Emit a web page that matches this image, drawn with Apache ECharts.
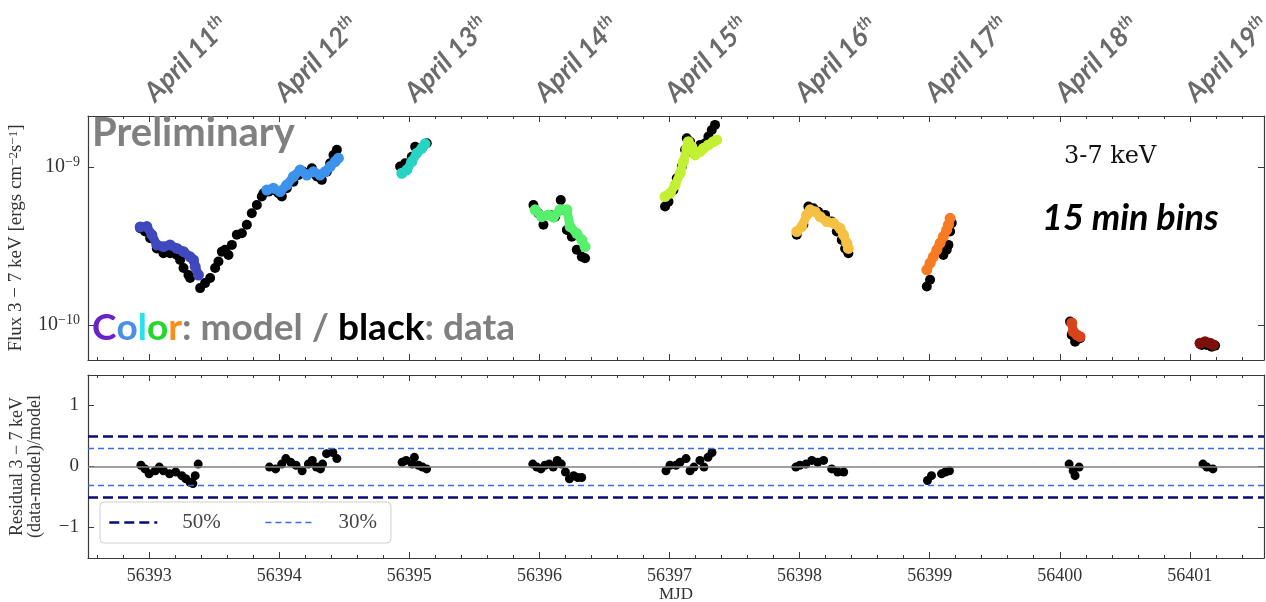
<!DOCTYPE html>
<html>
<head>
<meta charset="utf-8">
<script src="https://cdn.jsdelivr.net/npm/echarts@6/dist/echarts.min.js"></script>
<style>
  html, body { margin: 0; padding: 0; background: #fff; }
  #chart { width: 1266px; height: 602px; }
</style>
</head>
<body>
<div id="chart"></div>
<script>
// axis ranges
const xMin = 56392.53, xMax = 56401.57;
const fluxMin = 6.0e-11, fluxMax = 2.1e-9;
const resMin = -1.5, resMax = 1.5;

// one entry per observing day (April 11th .. 19th)
const dayTicks = [56393, 56394, 56395, 56396, 56397, 56398, 56399, 56400, 56401];
const aprilDays = [11, 12, 13, 14, 15, 16, 17, 18, 19];
const modelColors = ['#3f48bd', '#3c93ec', '#27d4c4', '#56f06c', '#c3f032', '#f6c142', '#f77b22', '#d8431c', '#7d0f0c'];

// data points (black), MJD and flux in 1e-10 erg cm^-2 s^-1
const dataT = [
  [56392.931, 56392.969, 56393.008, 56393.059, 56393.110, 56393.161, 56393.213, 56393.238, 56393.264, 56393.302, 56393.315, 56393.392, 56393.430, 56393.469, 56393.507, 56393.533, 56393.559, 56393.584, 56393.610, 56393.636, 56393.674, 56393.713, 56393.751, 56393.789, 56393.828, 56393.866],
  [56393.879, 56393.917, 56393.955, 56393.994, 56394.020, 56394.058, 56394.109, 56394.148, 56394.186, 56394.224, 56394.251, 56394.289, 56394.327, 56394.366, 56394.391, 56394.417, 56394.443],
  [56394.929, 56394.968, 56395.019, 56395.045, 56395.096, 56395.134],
  [56395.954, 56395.992, 56396.031, 56396.082, 56396.121, 56396.164, 56396.185, 56396.211, 56396.249, 56396.287, 56396.326, 56396.351],
  [56396.966, 56396.992, 56397.030, 56397.056, 56397.095, 56397.120, 56397.133, 56397.158, 56397.184, 56397.235, 56397.274, 56397.299, 56397.325, 56397.350],
  [56397.978, 56398.029, 56398.068, 56398.106, 56398.144, 56398.196, 56398.247, 56398.286, 56398.324, 56398.350, 56398.375],
  [56398.978, 56399.003, 56399.105, 56399.131, 56399.144, 56399.157, 56399.170],
  [56400.079, 56400.092, 56400.118, 56400.156],
  [56401.091, 56401.130, 56401.168, 56401.194]
];
const dataF = [
  [4.09, 3.90, 3.54, 3.05, 2.84, 2.84, 2.77, 2.58, 2.29, 2.07, 1.98, 1.71, 1.84, 1.98, 2.29, 2.52, 2.91, 2.99, 2.77, 3.21, 3.72, 3.80, 4.30, 5.09, 5.74, 6.49],
  [6.82, 6.98, 7.14, 6.82, 6.49, 7.33, 8.07, 8.89, 9.33, 9.12, 9.82, 8.69, 8.28, 9.33, 10.54, 11.91, 12.82],
  [10.05, 10.54, 11.61, 13.43, 13.12, 14.13],
  [5.74, 5.09, 4.30, 4.97, 4.84, 6.18, 5.35, 3.99, 3.62, 2.99, 2.70, 2.64],
  [5.61, 6.03, 7.14, 8.47, 10.05, 12.82, 15.2, 14.45, 12.22, 13.77, 14.13, 15.56, 17.14, 18.45],
  [3.72, 4.30, 5.61, 5.48, 5.21, 4.97, 4.51, 3.90, 3.45, 3.05, 2.84],
  [1.75, 1.93, 2.77, 2.99, 3.21, 3.90, 4.41],
  [1.05, 0.865, 0.784, 0.824],
  [0.747, 0.747, 0.729, 0.74]
];

// model curves (coloured)
const modelT = [
  [56392.931, 56392.982, 56393.021, 56393.059, 56393.110, 56393.161, 56393.213, 56393.264, 56393.315, 56393.341, 56393.354, 56393.379],
  [56393.905, 56393.955, 56394.007, 56394.058, 56394.109, 56394.161, 56394.212, 56394.263, 56394.314, 56394.353, 56394.391, 56394.430, 56394.455],
  [56394.942, 56394.981, 56395.019, 56395.058, 56395.096, 56395.121],
  [56395.967, 56396.018, 56396.069, 56396.108, 56396.159, 56396.211, 56396.236, 56396.287, 56396.326, 56396.351],
  [56396.966, 56397.005, 56397.043, 56397.082, 56397.107, 56397.133, 56397.145, 56397.171, 56397.197, 56397.235, 56397.261, 56397.299, 56397.337, 56397.363],
  [56397.978, 56398.017, 56398.055, 56398.081, 56398.119, 56398.158, 56398.209, 56398.260, 56398.311, 56398.337, 56398.363, 56398.375],
  [56398.978, 56399.003, 56399.028, 56399.055, 56399.080, 56399.105, 56399.131, 56399.144, 56399.157],
  [56400.092, 56400.104, 56400.131, 56400.156],
  [56401.078, 56401.117, 56401.155, 56401.181]
];
const modelF = [
  [4.17, 4.19, 3.72, 3.21, 3.13, 3.21, 3.05, 2.91, 2.70, 2.58, 2.34, 2.07],
  [7.14, 7.33, 6.98, 7.69, 8.69, 9.57, 8.89, 9.33, 8.89, 9.33, 10.05, 10.81, 11.35],
  [9.12, 9.57, 10.81, 12.22, 13.12, 14.0],
  [5.35, 4.84, 4.97, 4.81, 5.35, 5.35, 4.19, 3.80, 3.45, 3.13],
  [6.49, 6.82, 7.69, 9.12, 10.81, 13.12, 14.45, 13.43, 11.91, 12.50, 13.12, 13.77, 14.45, 14.82],
  [3.90, 4.19, 4.97, 5.35, 5.21, 4.84, 4.51, 4.41, 4.09, 3.72, 3.29, 3.05],
  [2.23, 2.46, 2.70, 2.99, 3.29, 3.62, 3.99, 4.30, 4.73],
  [1.03, 0.908, 0.865, 0.843],
  [0.766, 0.784, 0.766, 0.747]
];

// residuals (data-model)/model
const resT = [
  [56392.937, 56392.968, 56393.000, 56393.047, 56393.078, 56393.110, 56393.157, 56393.204, 56393.251, 56393.282, 56393.314, 56393.336, 56393.354, 56393.377],
  [56393.925, 56393.972, 56394.019, 56394.051, 56394.088, 56394.129, 56394.176, 56394.224, 56394.254, 56394.286, 56394.317, 56394.333, 56394.364, 56394.412, 56394.443],
  [56394.945, 56394.976, 56395.023, 56395.039, 56395.071, 56395.101, 56395.133],
  [56395.949, 56395.980, 56396.012, 56396.043, 56396.075, 56396.106, 56396.137, 56396.168, 56396.200, 56396.231, 56396.263, 56396.294, 56396.325],
  [56396.973, 56397.004, 56397.050, 56397.081, 56397.127, 56397.158, 56397.188, 56397.234, 56397.265, 56397.296, 56397.327],
  [56397.971, 56398.002, 56398.048, 56398.094, 56398.139, 56398.185, 56398.247, 56398.293, 56398.339],
  [56398.983, 56399.014, 56399.091, 56399.121, 56399.152],
  [56400.072, 56400.103, 56400.118, 56400.149],
  [56401.101, 56401.131, 56401.177]
];
const resV = [
  [0.02, -0.04, -0.12, -0.07, -0.01, -0.07, -0.12, -0.09, -0.15, -0.2, -0.26, -0.28, -0.15, 0.04],
  [-0.01, -0.04, 0.04, 0.13, 0.07, 0.02, -0.07, 0.04, 0.1, -0.01, -0.04, 0.04, 0.21, 0.23, 0.13],
  [0.07, 0.1, 0.04, 0.15, 0.02, -0.01, -0.04],
  [0.04, -0.01, -0.04, 0.02, 0.04, -0.01, 0.1, 0.04, -0.09, -0.2, -0.15, -0.18, -0.18],
  [-0.07, 0.02, 0.02, 0.07, 0.13, -0.07, -0.01, 0.1, -0.01, 0.15, 0.23],
  [-0.01, 0.02, 0.04, 0.1, 0.07, 0.1, -0.04, -0.09, -0.09],
  [-0.23, -0.15, -0.12, -0.09, -0.07],
  [0.04, -0.07, -0.15, -0.01],
  [0.04, -0.01, -0.04]
];

const limits = [0.5, 0.3]; // 50% and 30% bands

const serif = '"Liberation Serif", "DejaVu Serif", serif';
const ink = '#333';
const frame = '#3a3a3a';

const pair = (ts, vs, k) => ts.map((t, i) => [t, vs[i] * k]);
const isWhole = v => Math.abs(v - Math.round(v)) < 1e-6;

const chart = echarts.init(document.getElementById('chart'));

const tickStyle = { show: true, inside: true, length: 6, lineStyle: { color: frame, width: 1 } };
const lineStyle = { show: true, onZero: false, lineStyle: { color: frame, width: 1.2 } };

function mjdAxis(gridIndex, position, label) {
  return {
    type: 'value', gridIndex: gridIndex, position: position,
    min: xMin, max: xMax, minInterval: 1, maxInterval: 1,
    axisLine: lineStyle, axisTick: tickStyle,
    minorTick: { show: true, splitNumber: 5, length: 3, lineStyle: { color: frame, width: 1 } },
    splitLine: { show: false },
    axisLabel: label || { show: false }
  };
}

function fluxAxis(position, label) {
  return {
    type: 'log', logBase: 10, gridIndex: 0, position: position,
    min: fluxMin, max: fluxMax,
    axisLine: lineStyle, axisTick: tickStyle, splitLine: { show: false },
    axisLabel: label || { show: false }
  };
}

function resAxis(position, label) {
  return {
    type: 'value', gridIndex: 1, position: position,
    min: resMin, max: resMax, minInterval: 1, maxInterval: 1,
    axisLine: lineStyle, axisTick: tickStyle, splitLine: { show: false },
    axisLabel: label || { show: false }
  };
}

const supRich = {
  b: { fontFamily: serif, fontSize: 20, color: ink, lineHeight: 24 },
  e: { fontFamily: serif, fontSize: 14, color: ink, lineHeight: 14, verticalAlign: 'top' }
};

const xAxes = [
  mjdAxis(0, 'bottom'),
  mjdAxis(0, 'top', {
    show: true, rotate: -45, margin: 19,
    formatter: function (v) {
      const i = dayTicks.indexOf(Math.round(v));
      if (!isWhole(v) || i < 0) return '';
      return '{m|April ' + aprilDays[i] + '}{s|th}';
    },
    rich: {
      m: { fontFamily: 'Lato', fontWeight: 'bold', fontStyle: 'italic', fontSize: 27, color: '#6b6b6b', lineHeight: 30 },
      s: { fontFamily: 'Lato', fontWeight: 'bold', fontStyle: 'italic', fontSize: 16, color: '#6b6b6b', lineHeight: 16, verticalAlign: 'top' }
    }
  }),
  Object.assign(mjdAxis(1, 'bottom', {
    show: true, margin: 9, color: ink, fontFamily: serif, fontSize: 18,
    formatter: v => isWhole(v) ? String(Math.round(v)) : ''
  }), {
    name: 'MJD', nameLocation: 'middle', nameGap: 27,
    nameTextStyle: { fontFamily: serif, fontSize: 17, color: ink }
  }),
  mjdAxis(1, 'top')
];

const yAxes = [
  Object.assign(fluxAxis('left', {
    show: true, margin: 8,
    formatter: function (v) {
      const e = Math.log10(v);
      if (Math.abs(e - Math.round(e)) > 0.01) return '';
      return '{b|10}{e|−' + Math.abs(Math.round(e)) + '}';
    },
    rich: supRich
  }), {
    name: 'Flux 3 − 7 keV [ergs cm{e|−2}s{e|−1}]', nameLocation: 'middle', nameRotate: 90, nameGap: 62,
    nameTextStyle: {
      fontFamily: serif, fontSize: 19, color: ink,
      rich: { e: { fontFamily: serif, fontSize: 13, color: ink, lineHeight: 13, verticalAlign: 'top' } }
    }
  }),
  fluxAxis('right'),
  Object.assign(resAxis('left', {
    show: true, margin: 9, color: ink, fontFamily: serif, fontSize: 19,
    formatter: v => isWhole(v) ? String(Math.round(v)).replace('-', '−') : ''
  }), {
    name: 'Residual 3 − 7 keV\n(data-model)/model', nameLocation: 'middle', nameRotate: 90, nameGap: 44,
    nameTextStyle: { fontFamily: serif, fontSize: 18, color: ink, lineHeight: 18 }
  }),
  resAxis('right')
];

const series = [];
dataT.forEach(function (ts, i) {
  series.push({
    type: 'scatter', name: 'data' + i, xAxisIndex: 0, yAxisIndex: 0,
    data: pair(ts, dataF[i], 1e-10), symbolSize: 10,
    itemStyle: { color: '#000', opacity: 1 }, z: 2
  });
});
modelT.forEach(function (ts, i) {
  series.push({
    type: 'line', name: 'model' + i, xAxisIndex: 0, yAxisIndex: 0,
    data: pair(ts, modelF[i], 1e-10), symbol: 'circle', symbolSize: 11, showAllSymbol: true,
    lineStyle: { color: modelColors[i], width: 9 }, itemStyle: { color: modelColors[i], opacity: 1 }, z: 3
  });
});
series.push({
  type: 'line', name: 'zero', xAxisIndex: 2, yAxisIndex: 2, data: [], z: 1,
  markLine: {
    silent: true, symbol: 'none', label: { show: false },
    lineStyle: { color: '#808080', width: 1.5, type: 'solid' }, data: [{ yAxis: 0 }]
  }
});
[['50%', '#0b0b78', 2.6, [10, 5]], ['30%', '#3f6ae0', 1.3, [6, 4]]].forEach(function (s, k) {
  const style = { color: s[1], width: s[2], type: s[3] };
  series.push({
    type: 'line', name: s[0], xAxisIndex: 2, yAxisIndex: 2, data: [], symbol: 'none',
    lineStyle: style, itemStyle: { color: s[1] }, z: 2,
    markLine: {
      silent: true, symbol: 'none', label: { show: false }, lineStyle: style,
      data: [{ yAxis: limits[k] }, { yAxis: -limits[k] }]
    }
  });
});
series.push({
  type: 'scatter', name: 'residual', xAxisIndex: 2, yAxisIndex: 2,
  data: [].concat.apply([], resT.map((ts, i) => pair(ts, resV[i], 1))),
  symbolSize: 9, itemStyle: { color: '#000', opacity: 1 }, z: 4
});

const boldSans = { fontFamily: 'Lato', fontWeight: 'bold', fontSize: 37 };
const option = {
  animation: false,
  backgroundColor: '#fff',
  grid: [
    { left: 88, right: 2, top: 116, height: 244, outerBoundsMode: 'none' },
    { left: 88, right: 2, top: 375, height: 183, outerBoundsMode: 'none' }
  ],
  xAxis: xAxes,
  yAxis: yAxes,
  legend: {
    data: ['50%', '30%'], left: 100, top: 502, orient: 'horizontal', selectedMode: false,
    itemWidth: 48, itemHeight: 12, itemGap: 44, padding: [10, 14, 10, 8],
    backgroundColor: '#fff', borderColor: '#cfcfcf', borderWidth: 1, borderRadius: 4,
    itemStyle: { opacity: 0 },
    lineStyle: { width: 'inherit', type: 'inherit' },
    textStyle: { fontFamily: serif, fontSize: 21, color: '#444', padding: [0, 0, 0, 20] }
  },
  title: [
    { text: 'Preliminary', left: 92, top: 113, padding: 0,
      textStyle: { fontFamily: 'Lato', fontWeight: 'bold', fontSize: 40, color: '#808080' } },
    { text: '{c1|C}{c2|o}{c3|l}{c4|o}{c5|r}{g|: model / }{k|black}{g|: data}', left: 92, top: 310, padding: 0,
      textStyle: Object.assign({ rich: {
        c1: Object.assign({ color: '#6a22c8' }, boldSans),
        c2: Object.assign({ color: '#4a8fe7' }, boldSans),
        c3: Object.assign({ color: '#22e3ee' }, boldSans),
        c4: Object.assign({ color: '#22d82a' }, boldSans),
        c5: Object.assign({ color: '#ff8c1a' }, boldSans),
        g: Object.assign({ color: '#808080' }, boldSans),
        k: Object.assign({ color: '#000' }, boldSans)
      } }, boldSans) },
    { text: '3-7 keV', left: 1064, top: 145, padding: 0,
      textStyle: { fontFamily: '"DejaVu Serif", serif', fontSize: 24, fontWeight: 'normal', color: '#111' } },
    { text: '15 min bins', left: 1042, top: 200, padding: 0,
      textStyle: { fontFamily: 'Lato', fontWeight: 'bold', fontStyle: 'italic', fontSize: 36, color: '#000' } }
  ],
  series: series
};

chart.setOption(option);
</script>
</body>
</html>
